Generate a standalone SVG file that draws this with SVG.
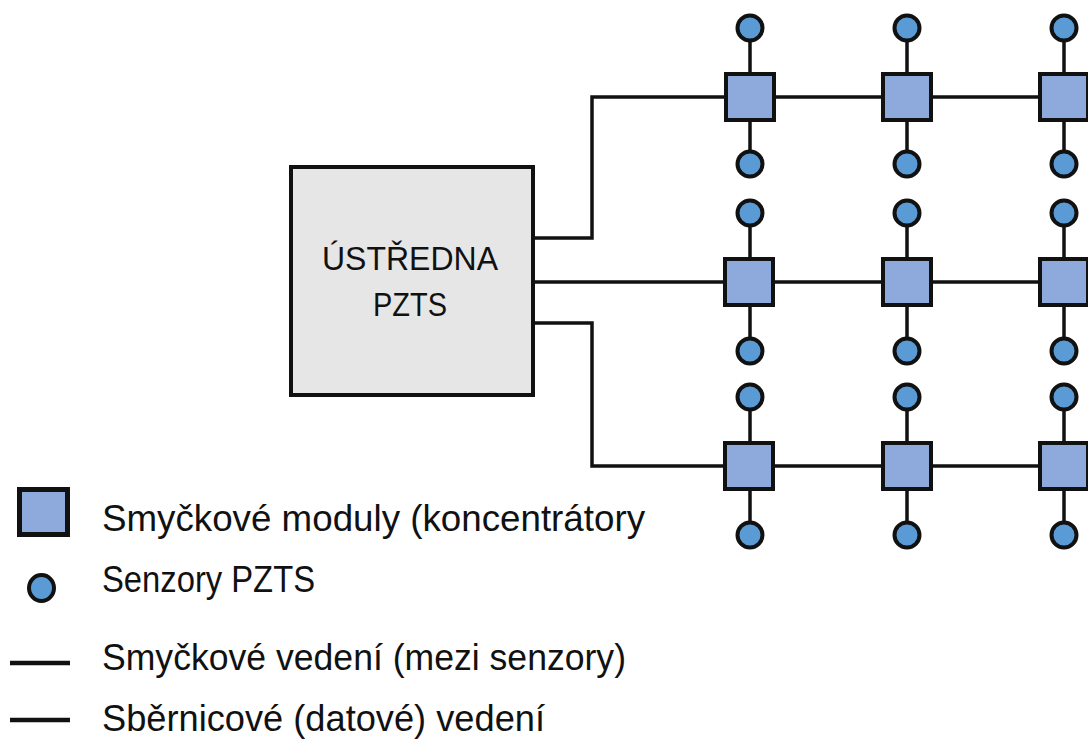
<svg xmlns="http://www.w3.org/2000/svg" width="1088" height="746" viewBox="0 0 1088 746">
<style>
.wire{fill:none;stroke:#111;stroke-width:3.5;stroke-linecap:butt;stroke-linejoin:miter}
.mod{fill:#8EA9DB;stroke:#111;stroke-width:4}
.sen{fill:#5B9BD5;stroke:#111;stroke-width:4}
.box{fill:#E7E6E6;stroke:#111;stroke-width:4}
.t{font-family:"Liberation Sans",Arial,sans-serif;fill:#111}
</style>
<rect width="1088" height="746" fill="#fff"/>
<g id="connectors">
<path class="wire" d="M535,238 H592 V97 H726"/>
<path class="wire" d="M535,282 H726"/>
<path class="wire" d="M535,323 H592 V466 H726"/>
<path class="wire" d="M750,97 H1064 M750,282 H1064 M750,466 H1064"/>
<path class="wire" d="M750,28 V164 M907,28 V164 M1064,28 V164"/>
<path class="wire" d="M750,213 V351 M907,213 V351 M1064,213 V351"/>
<path class="wire" d="M750,397 V535 M907,397 V535 M1064,397 V535"/>
</g>
<g id="central">
<rect class="box" x="291" y="167" width="242" height="228"/>
<text class="t" x="410" y="270" font-size="33" text-anchor="middle" textLength="176" lengthAdjust="spacingAndGlyphs">ÚSTŘEDNA</text>
<text class="t" x="410" y="316" font-size="33" text-anchor="middle" textLength="74" lengthAdjust="spacingAndGlyphs">PZTS</text>
</g>
<g id="modules">
<rect class="mod" x="726" y="74" width="48" height="46"/>
<rect class="mod" x="883" y="74" width="48" height="46"/>
<rect class="mod" x="1040" y="74" width="48" height="46"/>
<rect class="mod" x="725" y="259" width="48" height="46"/>
<rect class="mod" x="883" y="259" width="48" height="46"/>
<rect class="mod" x="1040" y="259" width="48" height="46"/>
<rect class="mod" x="725" y="443" width="48" height="46"/>
<rect class="mod" x="883" y="443" width="48" height="46"/>
<rect class="mod" x="1040" y="443" width="48" height="46"/>
</g>
<g id="sensors">
<circle class="sen" cx="750" cy="28" r="12.5"/>
<circle class="sen" cx="907" cy="28" r="12.5"/>
<circle class="sen" cx="1064" cy="28" r="12.5"/>
<circle class="sen" cx="750" cy="164" r="12.5"/>
<circle class="sen" cx="907" cy="164" r="12.5"/>
<circle class="sen" cx="1064" cy="164" r="12.5"/>
<circle class="sen" cx="750" cy="213" r="12.5"/>
<circle class="sen" cx="907" cy="213" r="12.5"/>
<circle class="sen" cx="1064" cy="213" r="12.5"/>
<circle class="sen" cx="750" cy="351" r="12.5"/>
<circle class="sen" cx="907" cy="351" r="12.5"/>
<circle class="sen" cx="1064" cy="351" r="12.5"/>
<circle class="sen" cx="750" cy="397" r="12.5"/>
<circle class="sen" cx="907" cy="397" r="12.5"/>
<circle class="sen" cx="1064" cy="397" r="12.5"/>
<circle class="sen" cx="750" cy="535" r="12.5"/>
<circle class="sen" cx="907" cy="535" r="12.5"/>
<circle class="sen" cx="1064" cy="535" r="12.5"/>
</g>
<g id="legend">
<rect class="mod" x="19.5" y="489.5" width="48" height="45" style="stroke-width:5"/>
<ellipse class="sen" cx="41.5" cy="588" rx="12.5" ry="13"/>
<line x1="10" y1="663" x2="70" y2="663" stroke="#111" stroke-width="4.5"/>
<line x1="10" y1="720" x2="70" y2="720" stroke="#111" stroke-width="4.5"/>
<text class="t" x="102" y="531" font-size="36" textLength="543" lengthAdjust="spacingAndGlyphs">Smyčkové moduly (koncentrátory</text>
<text class="t" x="102" y="592" font-size="36" textLength="213" lengthAdjust="spacingAndGlyphs">Senzory PZTS</text>
<text class="t" x="102" y="670" font-size="36" textLength="524" lengthAdjust="spacingAndGlyphs">Smyčkové vedení (mezi senzory)</text>
<text class="t" x="102" y="731" font-size="36" textLength="443" lengthAdjust="spacingAndGlyphs">Sběrnicové (datové) vedení</text>
</g>
</svg>
